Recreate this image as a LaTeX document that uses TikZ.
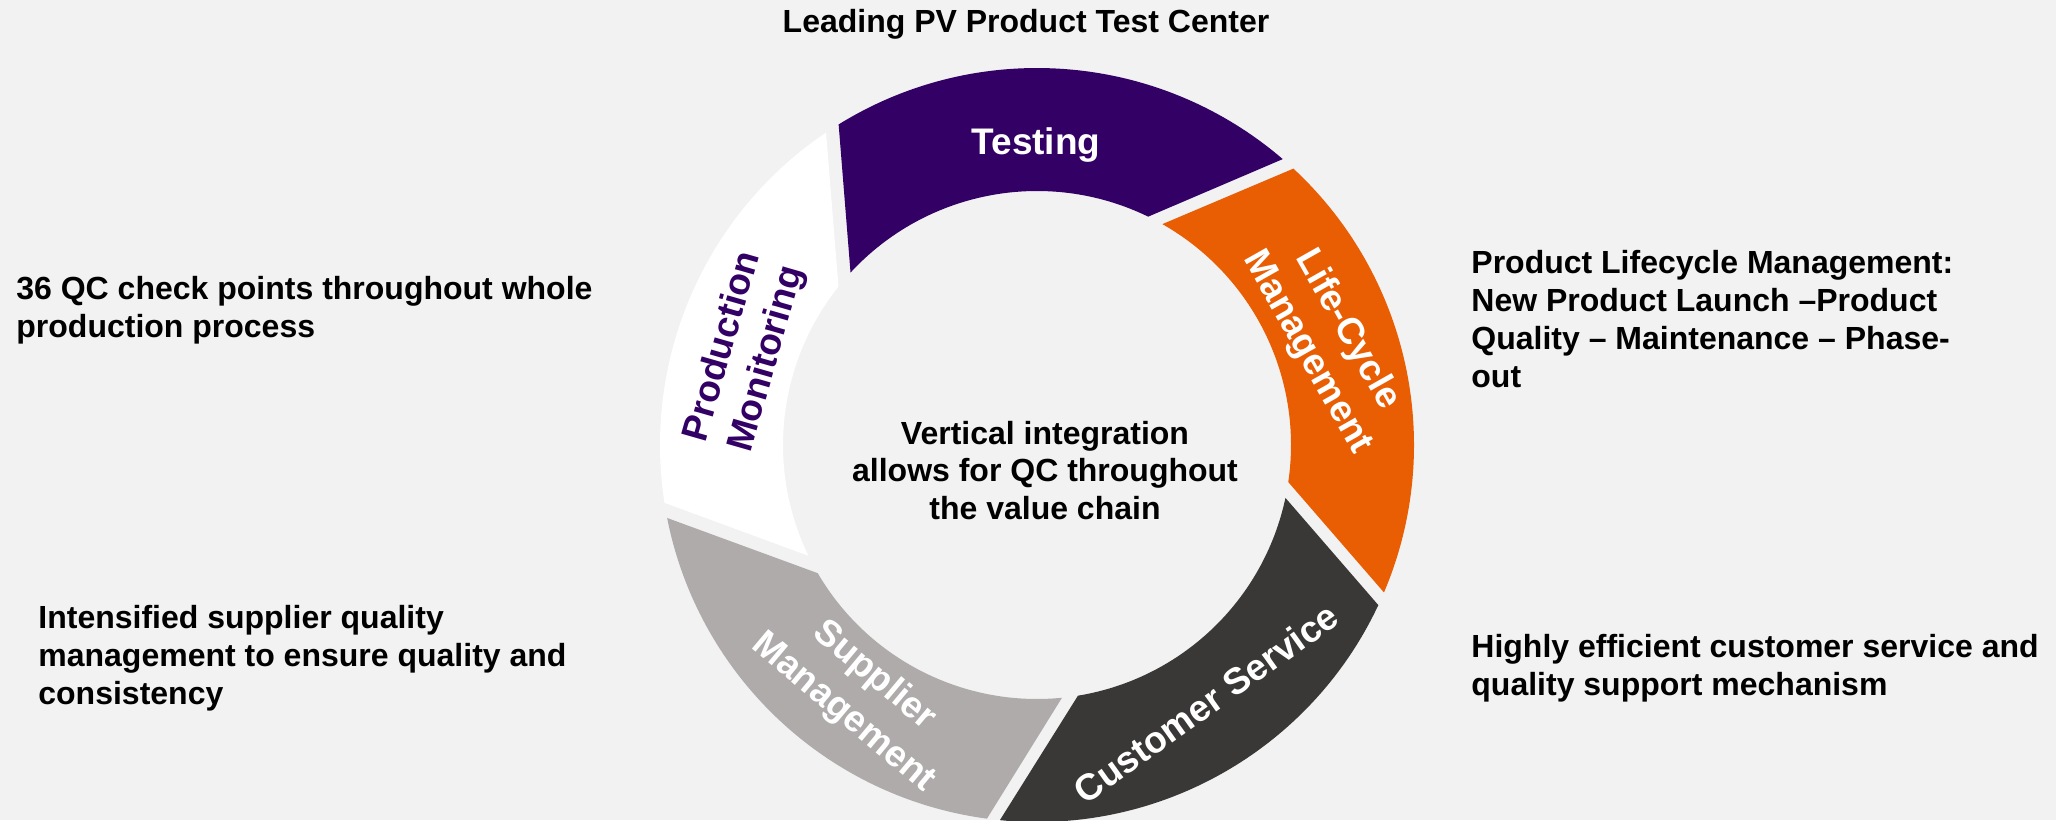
\documentclass[tikz,border=0pt]{standalone}
\usepackage{fontspec}
\setmainfont{Liberation Sans}
\definecolor{bg}{HTML}{F2F2F2}
\definecolor{tpurple}{HTML}{330066}
\definecolor{lorange}{HTML}{E95D03}
\definecolor{cdark}{HTML}{3A3836}
\definecolor{sgray}{HTML}{AEABAA}
\begin{document}
\begin{tikzpicture}[x=0.5pt,y=-0.5pt,
  seglabel/.style={font=\fontsize{18.5}{23}\selectfont\bfseries, text=white, align=center, inner sep=0pt},
  sidetext/.style={font=\fontsize{16}{19}\selectfont\bfseries, text=black, align=left, inner sep=0pt, anchor=base west},
  coretext/.style={font=\fontsize{16}{18.75}\selectfont\bfseries, text=black, align=center, inner sep=0pt, anchor=base},
  headtext/.style={font=\fontsize{16}{19}\selectfont\bfseries, text=black, inner sep=0pt, anchor=base}]
\useasboundingbox (0,0) rectangle (2056,820);
\fill[bg] (0,0) rectangle (2056,820);
\begin{scope}
\clip (0,0) rectangle (2056,820);
\begin{scope}[shift={(1037,445)}]
% Testing
\fill[tpurple] (-121.75:377) arc[start angle=-121.75, end angle=-49.32, radius=377]
  -- (-64.04:254) arc[start angle=-64.04, end angle=-137.24, radius=254] -- cycle;
% Life-Cycle Management
\fill[lorange] (-47.15:377) arc[start angle=-47.15, end angle=23.02, radius=377]
  -- (8.39:254) arc[start angle=8.39, end angle=-60.42, radius=254] -- cycle;
% Customer Service
\fill[cdark] (25.13:377) arc[start angle=25.13, end angle=95.65, radius=377]
  -- (80.72:254) arc[start angle=80.72, end angle=12.02, radius=254] -- cycle;
% Supplier Management
\fill[sgray] (97.63:377) arc[start angle=97.63, end angle=168.84, radius=377]
  -- (149.69:254) arc[start angle=149.69, end angle=84.36, radius=254] -- cycle;
% Production Monitoring
\fill[white] (171.18:377) arc[start angle=171.18, end angle=235.97, radius=377]
  -- (218.59:254) arc[start angle=218.59, end angle=154.14, radius=254] -- cycle;
\end{scope}
\end{scope}
% segment labels
\node[seglabel, anchor=base] (testing) at (1036,154.3) {Testing};
\node[seglabel, text=tpurple, rotate=74] (prodmon) at (745.5,353) {Production\\Monitoring};
\node[seglabel, rotate=-60.5] (lcm) at (1327,341) {Life-Cycle\\Management};
\node[seglabel, rotate=35.5] (custserv) at (1206,703) {Customer Service};
\node[seglabel, rotate=-40, font=\fontsize{18.5}{24}\selectfont\bfseries] (supmgmt) at (858.7,694.5) {Supplier\\Management};
% texts (multi-line nodes: base = last line's baseline)
\node[headtext] (title) at (1026,32.3) {Leading PV Product Test Center};
\node[coretext] (core) at (1045,519) {Vertical integration\\allows for QC throughout\\the value chain};
\node[sidetext] (plm) at (1471,387) {Product Lifecycle Management:\\New Product Launch –Product\\Quality – Maintenance – Phase-\\out};
\node[sidetext] (csnote) at (1471,695) {Highly efficient customer service and\\quality support mechanism};
\node[sidetext] (qcnote) at (16,337) {36 QC check points throughout whole\\production process};
\node[sidetext] (sqnote) at (38,704) {Intensified supplier quality\\management to ensure quality and\\consistency};
\end{tikzpicture}
\end{document}
